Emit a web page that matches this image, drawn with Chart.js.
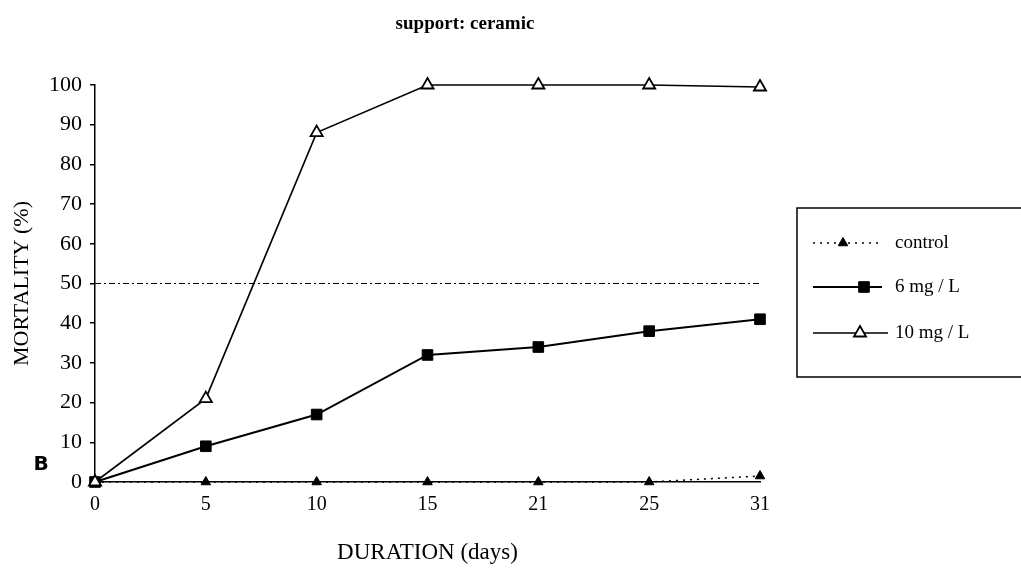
<!DOCTYPE html>
<html>
<head>
<meta charset="utf-8">
<script src="https://cdn.jsdelivr.net/npm/chart.js@4/dist/chart.umd.min.js"></script>
<style>
  html, body { margin: 0; padding: 0; background: #fff; }
  #wrap { position: relative; width: 1021px; height: 584px; }
</style>
</head>
<body>
<div id="wrap"><canvas id="c" width="1021" height="584"></canvas></div>
<script>
// Exposure duration (days) and mortality (%) for each treatment
const days = ['0', '5', '10', '15', '21', '25', '31'];
const control = [0, 0, 0, 0, 0, 0, 1.5];
const dose6 = [0, 9, 17, 32, 34, 38, 41];
const dose10 = [0, 21, 88, 100, 100, 100, 99.5];
const lc50 = [50, 50, 50, 50, 50, 50, 50];
const yTicks = [0, 10, 20, 30, 40, 50, 60, 70, 80, 90, 100];

const SERIF = '"Liberation Serif", "Times New Roman", serif';

const legendItems = [
  { ds: 0, label: 'control', y: 243, x0: 813, x1: 880, px: 843 },
  { ds: 1, label: '6 mg / L', y: 287, x0: 813, x1: 882, px: 864 },
  { ds: 2, label: '10 mg / L', y: 333, x0: 813, x1: 888, px: 860 }
];

const decorations = {
  id: 'decorations',
  afterDraw(chart) {
    const ctx = chart.ctx;
    ctx.save();
    // heading
    ctx.fillStyle = '#000';
    ctx.font = 'bold 19px ' + SERIF;
    ctx.textAlign = 'center';
    ctx.textBaseline = 'middle';
    ctx.fillText('support: ceramic', 465, 24);
    // panel letter
    ctx.font = 'bold 20px "DejaVu Sans", sans-serif';
    ctx.fillText('B', 41, 465);

    // legend box
    ctx.lineWidth = 1.5;
    ctx.strokeStyle = '#000';
    ctx.strokeRect(797, 208, 240, 169);
    legendItems.forEach(it => {
      const ds = chart.data.datasets[it.ds];
      ctx.save();
      ctx.strokeStyle = ds.borderColor;
      ctx.lineWidth = ds.borderWidth;
      ctx.setLineDash(ds.borderDash || []);
      ctx.beginPath();
      ctx.moveTo(it.x0, it.y);
      ctx.lineTo(it.x1, it.y);
      ctx.stroke();
      ctx.setLineDash([]);
      ctx.fillStyle = ds.pointBackgroundColor;
      ctx.strokeStyle = ds.pointBorderColor;
      ctx.lineWidth = ds.pointBorderWidth;
      Chart.helpers.drawPoint(ctx, {
        pointStyle: ds.pointStyle, radius: ds.pointRadius, borderWidth: ds.pointBorderWidth, rotation: 0
      }, it.px, it.y);
      ctx.restore();
      ctx.fillStyle = '#000';
      ctx.font = '19px ' + SERIF;
      ctx.textAlign = 'left';
      ctx.textBaseline = 'middle';
      ctx.fillText(it.label, 895, it.y);
    });
    ctx.restore();
  }
};

new Chart(document.getElementById('c'), {
  type: 'line',
  data: {
    labels: days,
    datasets: [
      {
        label: 'control', data: control, order: 2, clip: false,
        borderColor: '#000', borderWidth: 1.5, borderDash: [2, 5],
        pointStyle: 'triangle', pointRadius: 5.5, pointBackgroundColor: '#000',
        pointBorderColor: '#000', pointBorderWidth: 1
      },
      {
        label: '6 mg / L', data: dose6, order: 1, clip: false,
        borderColor: '#000', borderWidth: 2,
        pointStyle: 'rect', pointRadius: 7.5, pointBackgroundColor: '#000',
        pointBorderColor: '#000', pointBorderWidth: 1
      },
      {
        label: '10 mg / L', data: dose10, order: 0, clip: false,
        borderColor: '#000', borderWidth: 1.6,
        pointStyle: 'triangle', pointRadius: 7, pointBackgroundColor: '#fff',
        pointBorderColor: '#000', pointBorderWidth: 1.8
      },
      {
        label: 'LC50', data: lc50, order: 3,
        borderColor: '#000', borderWidth: 1, borderDash: [6, 3, 2, 3],
        pointRadius: 0
      }
    ]
  },
  options: {
    responsive: false,
    animation: false,
    layout: { padding: { top: 85, right: 261, left: 0, bottom: 0 } },
    plugins: {
      legend: { display: false },
      title: { display: false },
      tooltip: { enabled: false }
    },
    scales: {
      x: {
        offset: false,
        grid: { display: false, drawTicks: false },
        border: { display: true, color: '#000', width: 1.5 },
        ticks: { color: '#000', font: { family: SERIF, size: 20 }, padding: 11, maxRotation: 0 },
        title: {
          display: true, text: 'DURATION (days)', color: '#000',
          font: { family: SERIF, size: 23 }, padding: { top: 4, bottom: 17 }
        },
        afterFit(scale) { scale.height = 102; }
      },
      y: {
        min: 0, max: 100,
        afterBuildTicks(scale) { scale.ticks = yTicks.map(v => ({ value: v })); },
        grid: { drawOnChartArea: false, drawTicks: true, tickLength: 5, color: '#000', lineWidth: 1.5 },
        border: { display: true, color: '#000', width: 1.5 },
        ticks: { color: '#000', font: { family: SERIF, size: 22 }, padding: 8 },
        title: {
          display: true, text: 'MORTALITY (%)', color: '#000',
          font: { family: SERIF, size: 22 }, padding: { top: 9, bottom: 0 }
        },
        afterFit(scale) { scale.width = 95; }
      }
    }
  },
  plugins: [decorations]
});
</script>
</body>
</html>
